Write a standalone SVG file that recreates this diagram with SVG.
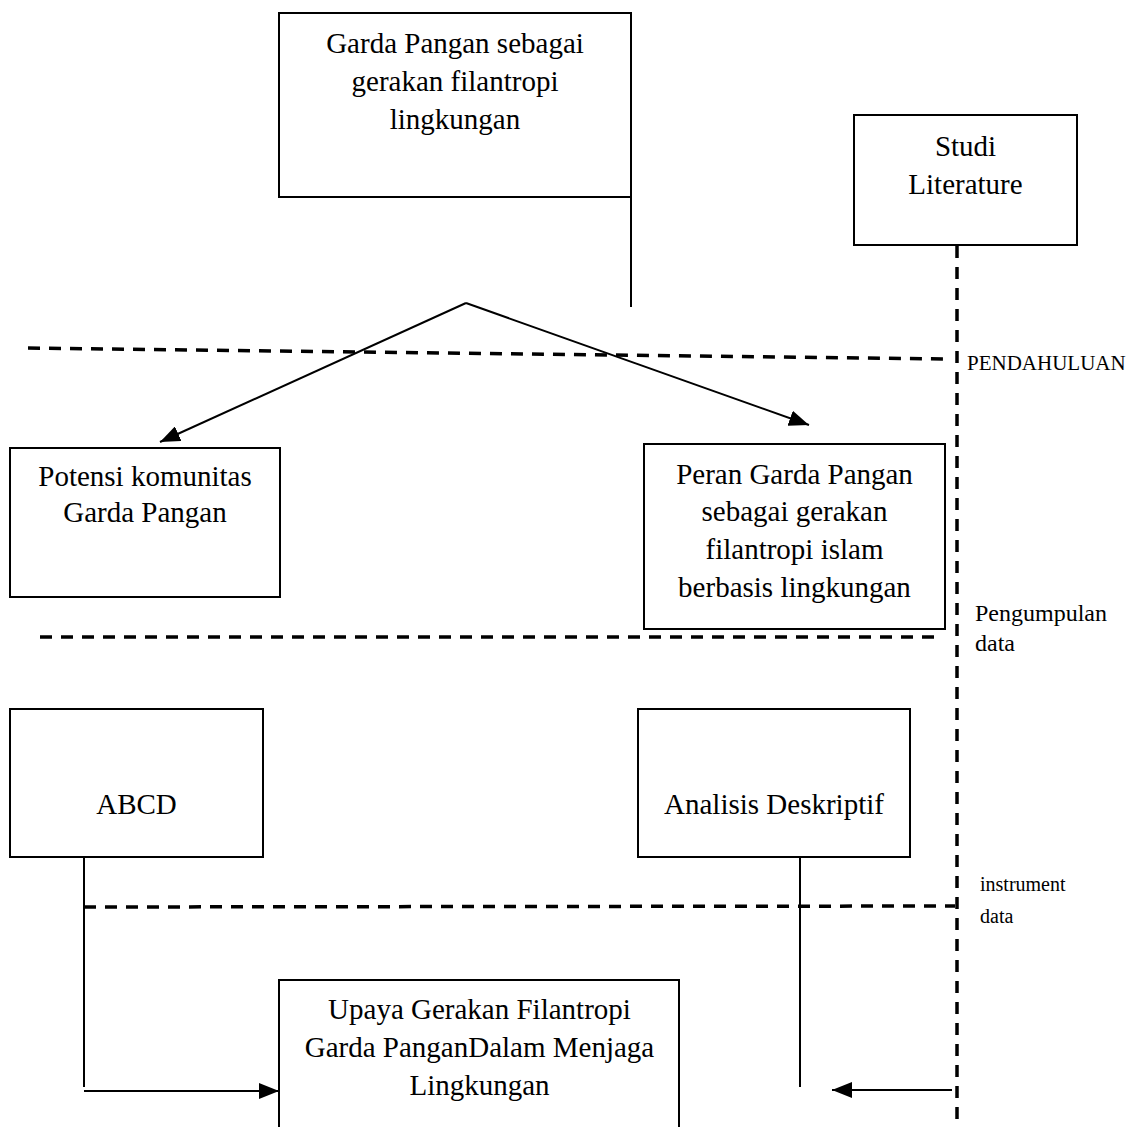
<svg xmlns="http://www.w3.org/2000/svg" width="1127" height="1127" viewBox="0 0 1127 1127">
<style>
  .box { fill: #ffffff; stroke: #000000; stroke-width: 2; }
  .t { font-family: "Liberation Serif", "Times New Roman", serif; font-size: 29px; fill: #000000; text-anchor: middle; }
  .lbl { font-family: "Liberation Serif", "Times New Roman", serif; font-size: 20px; fill: #000000; }
  .lbl-s { font-size: 21px; }
  .lbl-l { font-size: 24px; }
  .line { fill: none; stroke: #000000; stroke-width: 2; }
  .dash { fill: none; stroke: #000000; stroke-width: 3.5; stroke-dasharray: 12 9; }
</style>
<defs>
  <marker id="ah" markerUnits="userSpaceOnUse" markerWidth="20" markerHeight="16" viewBox="0 0 20 16" refX="20" refY="8" orient="auto">
    <path d="M0,0 L20,8 L0,16 Z" fill="#000000"/>
  </marker>
</defs>
<rect width="1127" height="1127" fill="#ffffff"/>

<g id="connectors">
  <line class="dash" x1="957" y1="246" x2="957" y2="1127"/>
  <line class="dash" x1="28" y1="348" x2="948" y2="359"/>
  <line class="dash" x1="40" y1="637" x2="943" y2="637"/>
  <line class="dash" x1="84" y1="907" x2="955" y2="906"/>
  <line class="line" x1="631" y1="197" x2="631" y2="307"/>
  <line class="line" x1="466" y1="303" x2="160" y2="442" marker-end="url(#ah)"/>
  <line class="line" x1="466" y1="303" x2="809" y2="425" marker-end="url(#ah)"/>
  <line class="line" x1="84" y1="857" x2="84" y2="1087"/>
  <line class="line" x1="84" y1="1091" x2="279" y2="1091" stroke-width="2.5" marker-end="url(#ah)"/>
  <line class="line" x1="800" y1="857" x2="800" y2="1087"/>
  <line class="line" x1="952" y1="1090" x2="832" y2="1090" stroke-width="2.5" marker-end="url(#ah)"/>
</g>

<g id="node-garda">
  <rect class="box" x="279" y="13" width="352" height="184"/>
  <text class="t" x="455" y="53">Garda Pangan sebagai</text>
  <text class="t" x="455" y="91">gerakan filantropi</text>
  <text class="t" x="455" y="129">lingkungan</text>
</g>

<g id="node-studi">
  <rect class="box" x="854" y="115" width="223" height="130"/>
  <text class="t" x="965.5" y="156">Studi</text>
  <text class="t" x="965.5" y="194">Literature</text>
</g>

<g id="node-potensi">
  <rect class="box" x="10" y="448" width="270" height="149"/>
  <text class="t" x="145" y="486">Potensi komunitas</text>
  <text class="t" x="145" y="522">Garda Pangan</text>
</g>

<g id="node-peran">
  <rect class="box" x="644" y="444" width="301" height="185"/>
  <text class="t" x="794.5" y="484">Peran Garda Pangan</text>
  <text class="t" x="794.5" y="521">sebagai gerakan</text>
  <text class="t" x="794.5" y="559">filantropi islam</text>
  <text class="t" x="794.5" y="597">berbasis lingkungan</text>
</g>

<g id="node-abcd">
  <rect class="box" x="10" y="709" width="253" height="148"/>
  <text class="t" x="136.5" y="814">ABCD</text>
</g>

<g id="node-analisis">
  <rect class="box" x="638" y="709" width="272" height="148"/>
  <text class="t" x="774" y="814">Analisis Deskriptif</text>
</g>

<g id="node-upaya">
  <rect class="box" x="279" y="980" width="400" height="160"/>
  <text class="t" x="479.5" y="1019">Upaya Gerakan Filantropi</text>
  <text class="t" x="479.5" y="1057">Garda PanganDalam Menjaga</text>
  <text class="t" x="479.5" y="1095">Lingkungan</text>
</g>

<g id="labels">
  <text class="lbl lbl-s" x="967" y="370">PENDAHULUAN</text>
  <text class="lbl lbl-l" x="975" y="621">Pengumpulan</text>
  <text class="lbl lbl-l" x="975" y="651">data</text>
  <text class="lbl" x="980" y="891">instrument</text>
  <text class="lbl" x="980" y="923">data</text>
</g>
</svg>
